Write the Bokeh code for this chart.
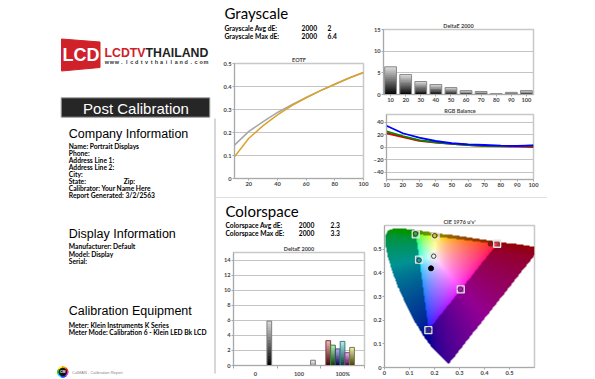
import numpy as np
from bokeh.plotting import figure
from bokeh.layouts import row, column
from bokeh.models import Range1d, FixedTicker, Div, Spacer
from bokeh.embed import file_html
from bokeh.resources import INLINE
from bokeh.core.properties import value

# ---------------- data ----------------
company_title = "Company Information"
company_lines = ["Name: Portrait Displays", "Phone:", "Address Line 1:", "Address Line 2:",
                 "City:", "State:", "Calibrator: Your Name Here", "Report Generated: 3/2/2563"]
display_title = "Display Information"
display_lines = ["Manufacturer: Default", "Model: Display", "Serial:"]
equipment_title = "Calibration Equipment"
equipment_lines = ["Meter: Klein Instruments K Series",
                   "Meter Mode: Calibration 6 - Klein LED Bk LCD"]

gs_summary_labels = ["Grayscale Avg dE:", "Grayscale Max dE:"]
gs_summary_formula = ["2000", "2000"]
gs_summary_values = ["2", "6.4"]
cs_summary_labels = ["Colorspace Avg dE:", "Colorspace Max dE:"]
cs_summary_formula = ["2000", "2000"]
cs_summary_values = ["2.3", "3.3"]

gs_levels = [10, 20, 30, 40, 50, 60, 70, 80, 90, 100]
gs_de2000 = [6.4, 4.6, 3.0, 2.3, 1.6, 0.9, 0.7, 0.2, 0.5, 0.9]

eotf_levels = [10, 20, 30, 40, 50, 60, 70, 80, 90, 100]
eotf_target = [0.145, 0.205, 0.247, 0.287, 0.321, 0.352, 0.382, 0.410, 0.437, 0.461]
eotf_measured = [0.094, 0.175, 0.230, 0.277, 0.317, 0.351, 0.382, 0.410, 0.437, 0.461]

rgb_levels = [10, 20, 30, 40, 50, 60, 70, 80, 90, 100]
rgb_red = [22, 16, 10, 7, 5, 3.2, 1.6, 1.0, 0.5, 0.0]
rgb_green = [25, 17.6, 11, 7.5, 5, 3.2, 2.0, 1.6, 1.5, 2.0]
rgb_blue = [34, 22, 15, 9.6, 6, 4.3, 3.2, 2.1, 1.6, 2.7]

cs_group_labels = ["0", "100", "100%"]
cs_patches = ["Black", "White", "Red", "Green", "Blue", "Cyan", "Magenta", "Yellow"]
cs_patch_group = [0, 1, 2, 2, 2, 2, 2, 2]
cs_de2000 = [5.9, 0.7, 3.3, 2.7, 2.2, 3.2, 1.7, 2.4]

cie_names = ["Red", "Green", "Blue", "Cyan", "Magenta", "Yellow", "White"]
cie_target_u = [0.4507, 0.1250, 0.1754, 0.1383, 0.3050, 0.2039, 0.1978]
cie_target_v = [0.5229, 0.5625, 0.1579, 0.4555, 0.3298, 0.5529, 0.4683]
cie_meas_u = [0.4235, 0.1240, 0.1770, 0.1383, 0.3032, 0.2008, 0.1968]
cie_meas_v = [0.5220, 0.5650, 0.1600, 0.4533, 0.3314, 0.5567, 0.4703]
cie_dot_u = [0.186]
cie_dot_v = [0.419]

# CIE 1931 2deg spectral locus (x, y), 380-700 nm
locus_x = [0.1741, 0.1733, 0.1726, 0.1714, 0.1689, 0.1644, 0.1566, 0.1440, 0.1355, 0.1241,
           0.1096, 0.0913, 0.0687, 0.0454, 0.0235, 0.0082, 0.0039, 0.0139, 0.0389, 0.0743,
           0.1142, 0.1547, 0.1929, 0.2296, 0.2658, 0.3016, 0.3373, 0.3731, 0.4087, 0.4441,
           0.4788, 0.5125, 0.5448, 0.5752, 0.6029, 0.6270, 0.6658, 0.6915, 0.7079, 0.7190,
           0.7260, 0.7347]
locus_y = [0.0050, 0.0048, 0.0048, 0.0051, 0.0069, 0.0109, 0.0177, 0.0297, 0.0399, 0.0578,
           0.0868, 0.1327, 0.2007, 0.2950, 0.4127, 0.5384, 0.6548, 0.7502, 0.8120, 0.8338,
           0.8262, 0.8059, 0.7816, 0.7543, 0.7243, 0.6923, 0.6589, 0.6245, 0.5896, 0.5547,
           0.5202, 0.4866, 0.4544, 0.4242, 0.3965, 0.3725, 0.3340, 0.3083, 0.2920, 0.2809,
           0.2740, 0.2653]

BODY_FONT = "Lato"
HEAD_FONT = "Liberation Sans"
BODY_SIZE = 6.7


def txt(p, x, y, s, size, font=BODY_FONT, style="bold", color="#000000",
        align="left", baseline="middle"):
    p.text(x=[x], y=[y], text=[s], text_font=value(font), text_font_size=f"{size}px",
           text_font_style=style, text_color=color, text_align=align, text_baseline=baseline)


def blank(width, height, x0, x1, y0, y1):
    p = figure(width=width, height=height, x_range=Range1d(x0, x1), y_range=Range1d(y1, y0),
               output_backend="svg", toolbar_location=None, min_border=0,
               x_axis_location=None, y_axis_location=None, frame_align=False)
    p.grid.visible = False
    p.outline_line_color = None
    return p


def chart(width, height, xr, yr, borders, title):
    l, r, t, b = borders
    p = figure(width=width, height=height, x_range=xr, y_range=yr, output_backend="svg",
               toolbar_location=None, min_border_left=l, min_border_right=r,
               min_border_top=t, min_border_bottom=b, title=title, frame_align=False)
    p.title.text_font = BODY_FONT
    p.title.text_font_size = "5.5px"
    p.title.text_font_style = "bold"
    p.title.align = "center"
    p.title.standoff = 2
    p.outline_line_color = "#c8c8c8"
    p.outline_line_width = 1.5
    for ax in p.axis:
        ax.axis_line_color = "#a8a8a8"
        ax.major_tick_line_color = "#a8a8a8"
        ax.major_tick_out = 2
        ax.major_tick_in = 0
        ax.minor_tick_line_color = None
        ax.major_label_text_font = BODY_FONT
        ax.major_label_text_font_size = "5.7px"
        ax.major_label_text_font_style = "bold"
        ax.major_label_standoff = 1
    p.xgrid.grid_line_color = None
    p.ygrid.grid_line_color = "#c4c4c4"
    return p


def mix(c0, c1, t):
    a = [int(c0[i:i + 2], 16) for i in (1, 3, 5)]
    b = [int(c1[i:i + 2], 16) for i in (1, 3, 5)]
    return "#%02x%02x%02x" % tuple(int(round(a[k] + (b[k] - a[k]) * t)) for k in range(3))


def gradient_bars(p, centers, values, width, dark, light, outline, n=14):
    L, R, B, T, C = [], [], [], [], []
    for i, (c, v) in enumerate(zip(centers, values)):
        for k in range(n):
            L.append(c - width / 2)
            R.append(c + width / 2)
            B.append(v * k / n)
            T.append(min(v, v * (k + 1.6) / n))
            C.append(mix(dark[i], light[i], (k + 0.5) / n))
    p.quad(left=L, right=R, bottom=B, top=T, fill_color=C, line_color=None)
    p.quad(left=[c - width / 2 for c in centers], right=[c + width / 2 for c in centers],
           bottom=[0] * len(values), top=values, fill_color=None, line_color=outline,
           line_width=1)


# ---------------- left panel (screen-like coordinates) ----------------
left = blank(216, 379, 0, 216, 0, 379)
left.patch([61, 99.5, 99.5, 61], [38.5, 41.5, 67, 70.5], color="#d0202a")
txt(left, 80.5, 54.5, "LCD", 18, font=HEAD_FONT, color="white", align="center")
txt(left, 104, 52, "LCDTV", 12.3, font=HEAD_FONT, color="#d0202a")
txt(left, 145, 52, "THAILAND", 12.3, font=HEAD_FONT, color="#222222")
url = "www.lcdtvthailand.com"
step = 104 / len(url)
left.text(x=[104 + step * (i + 0.5) for i in range(len(url))], y=[61.8] * len(url),
          text=list(url), text_font=value(HEAD_FONT), text_font_size="5.5px",
          text_font_style="bold", text_color="#333333", text_align="center",
          text_baseline="middle")

left.quad(left=[60.7], right=[209.3], top=[97.3], bottom=[116.7], fill_color="#262626",
          line_color="#a0a0a0", line_width=1)
txt(left, 135.5, 107.5, "Post Calibration", 15, font=HEAD_FONT, style="normal",
    color="white", align="center")

txt(left, 68.3, 133.3, company_title, 12.5, font=HEAD_FONT, style="normal")
for i, s in enumerate(company_lines):
    txt(left, 68.3, 145.7 + 6.9 * i, s, BODY_SIZE)
txt(left, 123.3, 145.7 + 6.9 * 5, "Zip:", BODY_SIZE)

txt(left, 68.3, 233.3, display_title, 12.5, font=HEAD_FONT, style="normal")
for i, s in enumerate(display_lines):
    txt(left, 68.3, 245.7 + 7.5 * i, s, BODY_SIZE)

txt(left, 68.3, 310.8, equipment_title, 12.5, font=HEAD_FONT, style="normal")
for i, s in enumerate(equipment_lines):
    txt(left, 68.3, 324 + 7 * i, s, BODY_SIZE)

ring = ["#ff2020", "#ff9900", "#ffee00", "#22cc22", "#00ccff", "#2040ff", "#cc33ff"]
na = len(ring)
left.annular_wedge(x=[62.3] * na, y=[371.5] * na, inner_radius=3.6, outer_radius=5.3,
                   start_angle=[2 * np.pi * k / na for k in range(na)],
                   end_angle=[2 * np.pi * (k + 1) / na for k in range(na)],
                   color=ring)
left.scatter(x=[62.3], y=[371.5], size=7.5, color="#111111")
txt(left, 62.3, 371.6, "CM", 3.5, font=HEAD_FONT, color="white", align="center")
txt(left, 71.5, 371.6, "CalMAN - Calibration Report", 4, font=HEAD_FONT, style="normal",
    color="#888888")
left.segment(x0=[214.5], y0=[118], x1=[214.5], y1=[373], line_color="#b0b0b0", line_width=1)

# ---------------- grayscale header ----------------
gs_text = blank(154, 50, 216, 370, 0, 50)
txt(gs_text, 224, 12, "Grayscale", 15, style="normal")
for i in range(2):
    yy = 27.7 + 8 * i
    txt(gs_text, 224, yy, gs_summary_labels[i], BODY_SIZE)
    txt(gs_text, 301, yy, gs_summary_formula[i], BODY_SIZE)
    txt(gs_text, 327, yy, gs_summary_values[i], BODY_SIZE)

# ---------------- EOTF ----------------
eotf = chart(154, 147, Range1d(10, 100), Range1d(0, 0.5), (18, 7, 13, 19), "EOTF")
eotf.xaxis.ticker = FixedTicker(ticks=[20, 40, 60, 80, 100])
eotf.yaxis.ticker = FixedTicker(ticks=[0, 0.1, 0.2, 0.3, 0.4, 0.5])
eotf.yaxis.major_label_overrides = {0: "0"}
eotf.line(eotf_levels, eotf_target, line_color="#a6a6a6", line_width=1.5)
eotf.line(eotf_levels, eotf_measured, line_color="#dba22a", line_width=1.5)

# ---------------- grayscale DeltaE ----------------
gs_de = chart(225, 104, Range1d(5.3, 104.7), Range1d(0, 15), (10, 62, 29, 9), "DeltaE 2000")
gs_de.xaxis.ticker = FixedTicker(ticks=gs_levels)
gs_de.yaxis.ticker = FixedTicker(ticks=[0, 5, 10, 15])
gradient_bars(gs_de, gs_levels, gs_de2000, 7.8, ["#000000"] * 10, ["#e0e0e0"] * 10, "#8a8a8a")

# ---------------- RGB balance ----------------
rgb = chart(225, 93, Range1d(10, 100), Range1d(-52, 52), (11, 62, 10, 18), "RGB Balance")
rgb.xaxis.ticker = FixedTicker(ticks=rgb_levels)
rgb.yaxis.ticker = FixedTicker(ticks=[-40, -20, 0, 20, 40])
rgb.line(rgb_levels, rgb_red, line_color="#e00000", line_width=1.8)
rgb.line(rgb_levels, rgb_green, line_color="#008a00", line_width=1.8)
rgb.line(rgb_levels, rgb_blue, line_color="#0000ff", line_width=1.8)

# ---------------- separator ----------------
sep = row(Div(text="", width=331, height=1, margin=0,
              styles={"background-color": "#e0e0e0"}),
          Spacer(width=48, height=1))

# ---------------- colorspace header ----------------
cs_text = blank(154, 44, 216, 370, 198, 242)
txt(cs_text, 225, 210.5, "Colorspace", 15, style="normal")
for i in range(2):
    yy = 224.5 + 8.4 * i
    txt(cs_text, 225, yy, cs_summary_labels[i], BODY_SIZE)
    txt(cs_text, 298.3, yy, cs_summary_formula[i], BODY_SIZE)
    txt(cs_text, 330, yy, cs_summary_values[i], BODY_SIZE)

# ---------------- colorspace DeltaE ----------------
cs_de = chart(154, 137, Range1d(-0.5, 2.5), Range1d(0, 15), (17, 6, 10, 11), "DeltaE 2000")
cs_de.xaxis.ticker = FixedTicker(ticks=[0, 1, 2], minor_ticks=[-0.5, 0.5, 1.5, 2.5])
cs_de.xaxis.major_label_overrides = {i: s for i, s in enumerate(cs_group_labels)}
cs_de.xaxis.major_tick_out = 0
cs_de.xaxis.minor_tick_line_color = "#a8a8a8"
cs_de.xaxis.minor_tick_out = 3
cs_de.xaxis.minor_tick_in = 0
cs_de.yaxis.ticker = FixedTicker(ticks=[0, 2, 4, 6, 8, 10, 12, 14])
patch_dark = {"Black": "#000000", "White": "#8a8a8a", "Red": "#3c0000", "Green": "#003c00",
              "Blue": "#00003c", "Cyan": "#003c3c", "Magenta": "#3c003c", "Yellow": "#3c3c00"}
patch_light = {"Black": "#dcdcdc", "White": "#f6f6f6", "Red": "#f2b8b8", "Green": "#b8f2b8",
               "Blue": "#b8b8f2", "Cyan": "#b8f2f2", "Magenta": "#f2b8f2", "Yellow": "#f2f2b8"}
color_slot = 0
cs_centers = []
for name, g in zip(cs_patches, cs_patch_group):
    if g < 2:
        cs_centers.append(g - 0.5 + 0.82)
    else:
        cs_centers.append(g - 0.5 + 0.17 + 0.109 * color_slot)
        color_slot += 1
for i, name in enumerate(cs_patches):
    outline = {"Black": "#808080", "White": "#7a7a7a"}.get(name, mix(patch_dark[name], patch_light[name], 0.35))
    gradient_bars(cs_de, [cs_centers[i]], [cs_de2000[i]], 0.108, [patch_dark[name]],
                  [patch_light[name]], outline)

# ---------------- CIE 1976 u'v' ----------------
cie = chart(225, 181, Range1d(0, 0.6), Range1d(0, 0.6), (14, 61, 27, 12), "CIE 1976 u'v'")
cie.xaxis.ticker = FixedTicker(ticks=[0, 0.1, 0.2, 0.3, 0.4, 0.5])
cie.yaxis.ticker = FixedTicker(ticks=[0, 0.1, 0.2, 0.3, 0.4, 0.5])
cie.xaxis.major_label_overrides = {0: "0"}
cie.yaxis.major_label_overrides = {0: "0"}
cie.ygrid.grid_line_color = None

lx = np.array(locus_x)
ly = np.array(locus_y)
lden = -2 * lx + 12 * ly + 3
lu = 4 * lx / lden
lv = 9 * ly / lden


def inside(px, py, vx, vy):
    res = np.zeros(px.shape, dtype=bool)
    j = len(vx) - 1
    for i in range(len(vx)):
        xi, yi, xj, yj = vx[i], vy[i], vx[j], vy[j]
        cond = ((yi > py) != (yj > py)) & (px < (xj - xi) * (py - yi) / (yj - yi + 1e-12) + xi)
        res ^= cond
        j = i
    return res


N = 300
cc = (np.arange(N) + 0.5) * 0.6 / N
U, V = np.meshgrid(cc, cc)
den = 6 * U - 16 * V + 12
xc = 9 * U / den
yc = np.maximum(4 * V / den, 1e-6)
X = xc / yc
Z = (1 - xc - yc) / yc
Rl = 3.2406 * X - 1.5372 - 0.4986 * Z
Gl = -0.9689 * X + 1.8758 + 0.0415 * Z
Bl = 0.0557 * X - 0.2040 + 1.0570 * Z
rgbl = np.clip(np.stack([Rl, Gl, Bl], axis=-1), 0, None)
rgbl = rgbl / np.maximum(rgbl.max(axis=-1, keepdims=True), 1e-9)
rgbg = rgbl ** (1 / 2.2)
in_tri = inside(U, V, np.array(cie_target_u[:3]), np.array(cie_target_v[:3]))
rgbg[~in_tri] *= 0.58
in_loc = inside(U, V, lu, lv)
img = np.zeros((N, N), dtype=np.uint32)
view = img.view(dtype=np.uint8).reshape((N, N, 4))
view[:, :, 0] = (rgbg[:, :, 0] * 255).astype(np.uint8)
view[:, :, 1] = (rgbg[:, :, 1] * 255).astype(np.uint8)
view[:, :, 2] = (rgbg[:, :, 2] * 255).astype(np.uint8)
view[:, :, 3] = np.where(in_loc, 255, 0).astype(np.uint8)
cie.image_rgba(image=[img], x=0, y=0, dw=0.6, dh=0.6)

meas_fill = ["#c00000", "#30b030", "#2020d0", "#20a0a0", "#b020b0", "#d0c020", "#f0f0f0"]
cie.scatter(cie_target_u, cie_target_v, marker="square", size=7, fill_color="white",
            fill_alpha=0.2, line_color="#e4e4e4", line_width=1.3)
cie.scatter(cie_meas_u, cie_meas_v, marker="circle", size=4.5, fill_color=meas_fill,
            line_color="#303030", line_width=0.9)
cie.scatter(cie_dot_u, cie_dot_v, marker="circle", size=5, color="#000000")

# ---------------- layout ----------------
top_row = row(column(gs_text, eotf), column(gs_de, rgb))
bottom_row = row(column(cs_text, cs_de), cie)
right = column(top_row, sep, bottom_row)
layout = row(left, right)

open("out.html", "w").write(file_html(layout, INLINE))
